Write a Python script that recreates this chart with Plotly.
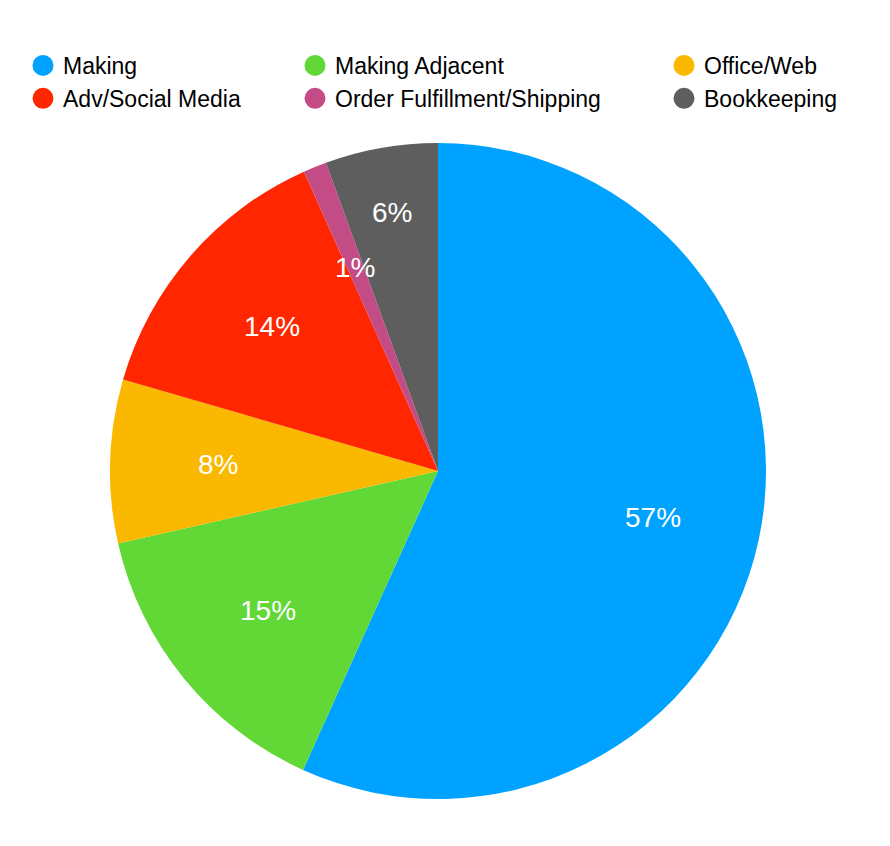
import numpy as np
import plotly.graph_objects as go

categories = ["Making", "Making Adjacent", "Office/Web", "Adv/Social Media",
              "Order Fulfillment/Shipping", "Bookkeeping"]
shares = [56.75, 14.7, 8.05, 13.8, 1.15, 5.55]
colors = ["#00A2FF", "#61D836", "#FAB800", "#FF2600", "#C34B86", "#5E5E5E"]

# legend layout: three columns of two entries
legend_columns = [["Making", "Adv/Social Media"],
                  ["Making Adjacent", "Order Fulfillment/Shipping"],
                  ["Office/Web", "Bookkeeping"]]

# style: radial placement of percentage labels (fraction of radius)
label_radius = [0.67, 0.67, 0.67, 0.67, 0.67, 0.80]

FONT = "Liberation Sans, Arial, Helvetica, sans-serif"
W, H = 890, 846
CX, CY, R = 430, 463, 328  # pie centre / radius in figure pixels

fig = go.Figure()
fig.add_trace(go.Pie(
    labels=categories, values=shares, sort=False, direction="clockwise",
    rotation=0, marker=dict(colors=colors, line=dict(width=0)),
    textinfo="none", showlegend=False, hoverinfo="label+percent",
    domain=dict(x=[(CX - R) / W, (CX + R) / W],
                y=[(H - CY - R) / H, (H - CY + R) / H]),
))

# percentage labels placed at the middle angle of each slice
vals = np.array(shares, dtype=float)
frac = vals / vals.sum()
mid = (np.cumsum(frac) - frac / 2) * 2 * np.pi
for f, a, rf in zip(frac, mid, label_radius):
    fig.add_annotation(
        x=(CX + rf * R * np.sin(a)) / W, y=(H - CY + rf * R * np.cos(a)) / H,
        xref="paper", yref="paper", text=f"{f * 100:.0f}%", showarrow=False,
        font=dict(color="white", size=28, family=FONT),
        xanchor="center", yanchor="middle")

legend_names = ["legend", "legend2", "legend3"]
color_of = dict(zip(categories, colors))
for lg, col in zip(legend_names, legend_columns):
    for name in col:
        fig.add_trace(go.Scatter(
            x=[None], y=[None], mode="markers", name=name, legend=lg,
            marker=dict(color=color_of[name], size=22, symbol="circle",
                        line=dict(color=color_of[name], width=5)),
            hoverinfo="skip"))

legend_x = [15, 287, 656]
legend_top = 36
common = dict(orientation="v", yanchor="top", xanchor="left",
              font=dict(size=23, family=FONT, color="#000000"),
              bgcolor="rgba(0,0,0,0)", tracegroupgap=0, itemsizing="trace")
fig.update_layout(
    width=W, height=H, margin=dict(l=0, r=0, t=0, b=0),
    paper_bgcolor="white", plot_bgcolor="white",
    xaxis=dict(visible=False), yaxis=dict(visible=False),
    legend=dict(x=legend_x[0] / W, y=1 - legend_top / H, **common),
    legend2=dict(x=legend_x[1] / W, y=1 - legend_top / H, **common),
    legend3=dict(x=legend_x[2] / W, y=1 - legend_top / H, **common),
)

fig.write_html("out.html")
